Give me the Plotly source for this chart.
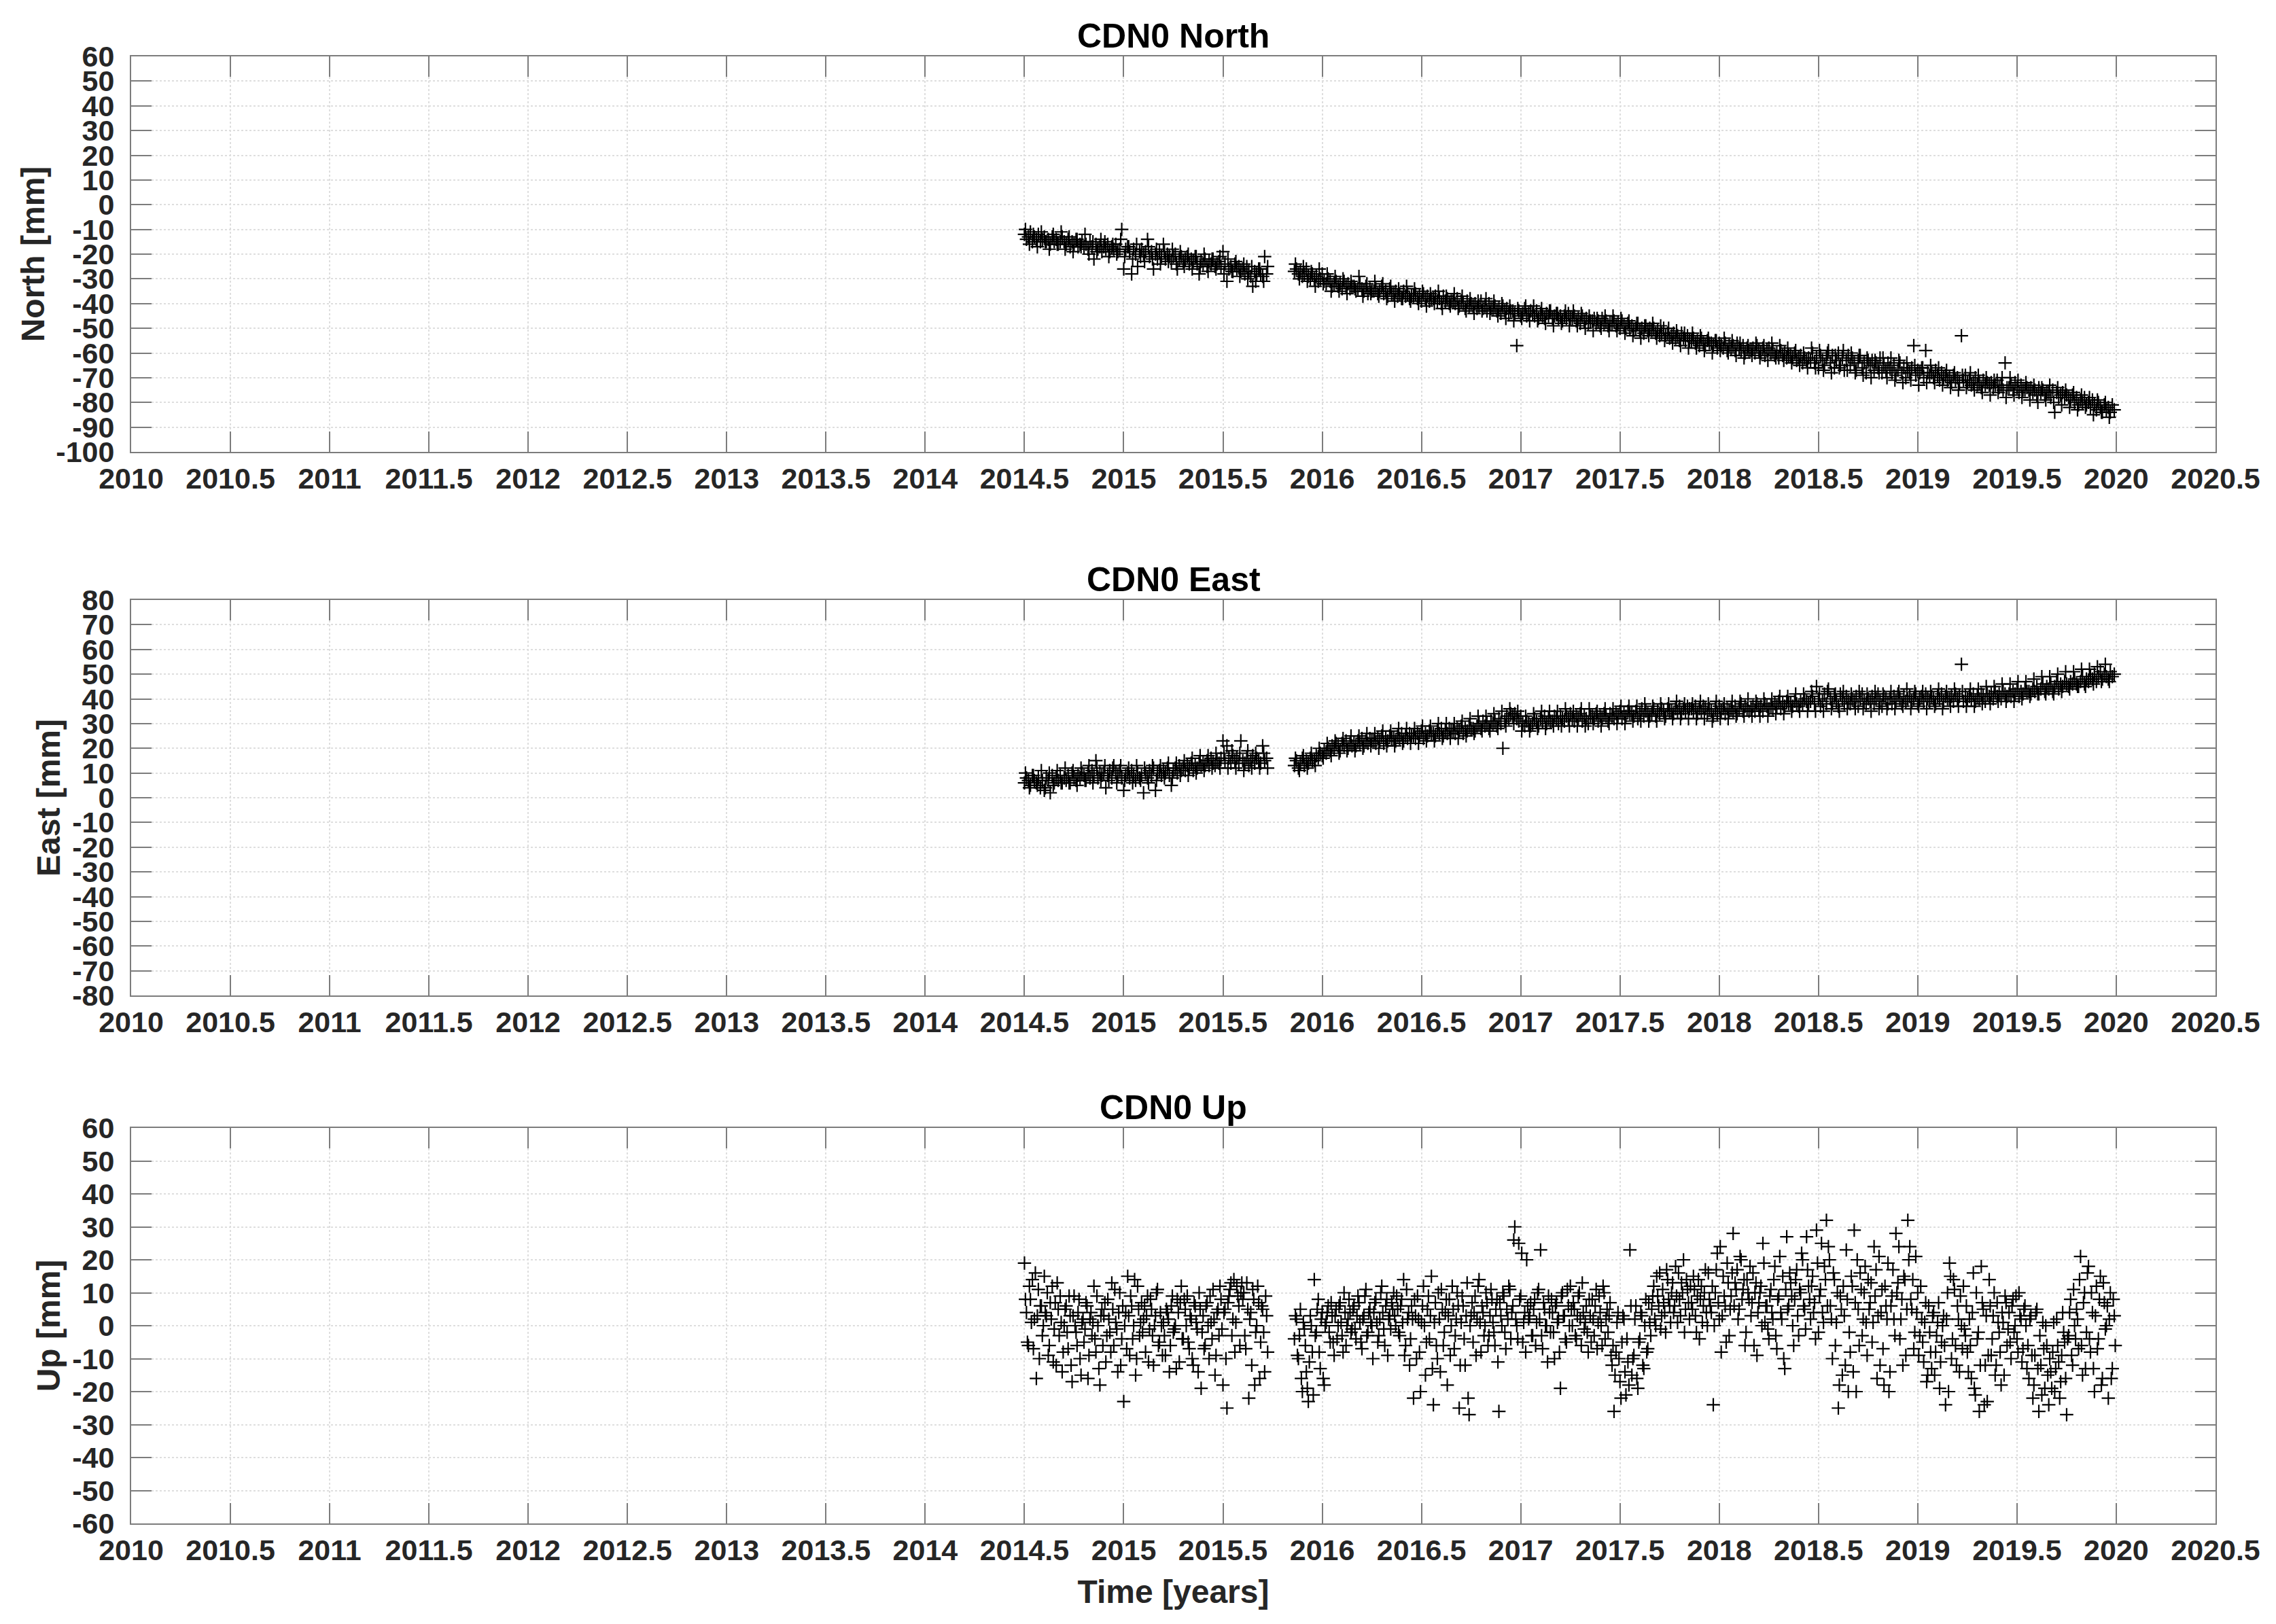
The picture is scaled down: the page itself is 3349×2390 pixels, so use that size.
import numpy as np
import plotly.graph_objects as go

# ---------------- data ----------------
SEG1_START = 2014.50      # first block of observations
SEG2_START = 2015.86      # second block, after the data gap
STEP = 0.01               # sampling of the main readings [yr]
B_OFFSET = 0.005          # extra readings lie between the main ones
NE_B_STEP = 0.02          # sampling of the extra North / East readings [yr]

north_seg1 = [-12, -14, -13, -11, -15, -13, -14, -12, -15, -14,
              -13, -15, -14, -16, -13, -15, -14, -16, -15, -13,
              -15, -16, -14, -17, -15, -16, -14, -17, -16, -15,
              -17, -16, -18, -15, -17, -22, -16, -18, -17, -19,
              -17, -18, -16, -19, -17, -18, -16, -19, -18, -10,
              -26, -18, -17, -19, -28, -18, -20, -25, -19, -18,
              -20, -19, -14, -21, -19, -26, -20, -22, -19, -21,
              -16, -22, -20, -21, -23, -21, -20, -26, -22, -21,
              -23, -22, -21, -24, -22, -23, -21, -24, -28, -23,
              -24, -22, -25, -23, -24, -22, -25, -24, -23, -25,
              -19, -24, -31, -26, -25, -27, -24, -26, -25, -27,
              -26, -28, -25, -27, -29, -33, -27, -28, -26, -28,
              -29, -21, -28]
north_seg2 = [-27, -26, -28, -27, -29, -28, -26, -29, -30, -28,
              -30, -29, -31, -30, -28, -31, -32, -30, -31, -33,
              -32, -31, -33, -32, -34, -31, -33, -32, -34, -33,
              -33, -35, -34, -32, -34, -35, -33, -36, -34, -35,
              -35, -34, -36, -35, -33, -36, -35, -37, -34, -36,
              -36, -35, -37, -36, -38, -35, -37, -36, -38, -37,
              -37, -36, -38, -37, -39, -36, -38, -37, -39, -38,
              -38, -37, -39, -38, -40, -37, -39, -38, -40, -39,
              -39, -40, -38, -41, -39, -40, -42, -39, -41, -40,
              -41, -40, -42, -41, -39, -42, -41, -43, -40, -42,
              -42, -41, -43, -42, -44, -41, -43, -42, -44, -43,
              -43, -44, -57, -43, -45, -44, -42, -45, -44, -43,
              -44, -45, -43, -46, -44, -45, -46, -44, -45, -43,
              -46, -45, -44, -46, -45, -47, -45, -46, -44, -46,
              -46, -45, -47, -46, -48, -45, -47, -46, -48, -47,
              -47, -46, -48, -47, -49, -46, -48, -47, -49, -48,
              -48, -47, -49, -48, -50, -47, -49, -50, -48, -50,
              -49, -51, -50, -48, -51, -50, -52, -49, -51, -50,
              -51, -50, -52, -51, -53, -52, -50, -53, -52, -54,
              -53, -52, -54, -53, -55, -52, -54, -55, -53, -55,
              -55, -54, -56, -55, -57, -54, -56, -57, -55, -56,
              -56, -57, -55, -58, -56, -57, -58, -56, -59, -57,
              -58, -57, -59, -56, -58, -59, -57, -60, -58, -59,
              -59, -58, -60, -57, -59, -60, -58, -61, -59, -58,
              -60, -59, -61, -60, -62, -59, -61, -60, -62, -61,
              -61, -62, -60, -63, -62, -61, -64, -62, -63, -62,
              -63, -60, -64, -62, -66, -61, -63, -65, -62, -59,
              -64, -61, -66, -63, -60, -65, -62, -67, -63, -61,
              -65, -62, -64, -67, -63, -61, -66, -64, -68, -63,
              -65, -63, -67, -64, -66, -62, -68, -65, -67, -64,
              -66, -68, -65, -69, -67, -64, -68, -66, -70, -67,
              -68, -66, -57, -69, -67, -68, -66, -70, -59, -68,
              -69, -68, -70, -67, -69, -71, -68, -70, -69, -71,
              -70, -72, -69, -71, -70, -72, -53, -71, -69, -72,
              -71, -73, -72, -70, -73, -72, -74, -71, -73, -72,
              -73, -72, -74, -73, -71, -74, -73, -75, -64, -74,
              -74, -73, -75, -72, -74, -76, -73, -75, -75, -74,
              -75, -74, -76, -75, -77, -74, -76, -75, -77, -76,
              -76, -78, -75, -84, -76, -78, -77, -76, -78, -77,
              -78, -79, -77, -80, -78, -81, -79, -80, -78, -81,
              -80, -82, -79, -81, -83, -80, -82, -84, -81, -83,
              -82, -84, -81, -83]
north_seg1_b = [-10, -16, -12, -17, -11, -15, -18, -12, -16, -11,
                -18, -13, -19, -14, -17, -12, -20, -15, -19, -14,
                -15, -21, -16, -20, -14, -21, -17, -22, -16, -21,
                -23, -17, -22, -18, -24, -19, -23, -18, -24, -19,
                -25, -20, -26, -21, -25, -20, -27, -22, -26, -21,
                -28, -22, -27, -23, -29, -24, -30, -25, -31, -26,
                -31, -25]
north_seg2_b = [-24, -30, -25, -31, -27, -33, -26, -32, -28, -35,
                -29, -35, -30, -36, -31, -34, -29, -37, -32, -36,
                -31, -37, -32, -38, -33, -39, -34, -38, -33, -39,
                -34, -40, -35, -41, -36, -40, -35, -42, -37, -41,
                -36, -42, -37, -43, -38, -44, -39, -43, -38, -44,
                -39, -45, -40, -46, -41, -47, -42, -46, -41, -47,
                -41, -47, -42, -48, -43, -49, -44, -48, -43, -49,
                -43, -49, -44, -50, -45, -51, -46, -50, -45, -51,
                -45, -51, -46, -52, -47, -53, -48, -54, -49, -53,
                -48, -54, -49, -55, -50, -56, -51, -57, -52, -58,
                -52, -58, -53, -59, -54, -60, -55, -59, -54, -60,
                -55, -61, -56, -62, -57, -61, -56, -62, -57, -63,
                -56, -62, -57, -63, -58, -64, -59, -65, -60, -66,
                -58, -66, -59, -67, -60, -68, -61, -66, -59, -67,
                -60, -68, -61, -69, -62, -70, -63, -68, -62, -70,
                -62, -71, -63, -72, -64, -71, -65, -73, -66, -72,
                -65, -72, -66, -73, -67, -74, -68, -75, -69, -74,
                -68, -75, -69, -76, -70, -77, -71, -76, -70, -78,
                -70, -77, -71, -78, -72, -79, -73, -80, -74, -79,
                -73, -80, -74, -81, -75, -82, -76, -83, -77, -82,
                -78, -85, -79, -84, -80, -86]

east_seg1 = [6, 8, 7, 5, 9, 7, 6, 8, 4, 7,
             3, 8, 7, 2, 9, 6, 8, 7, 9, 6,
             8, 7, 9, 6, 10, 8, 7, 9, 8, 10,
             9, 7, 10, 8, 11, 9, 15, 8, 10, 9,
             10, 4, 9, 11, 8, 13, 10, 9, 11, 8,
             3, 9, 10, 8, 11, 9, 7, 10, 8, 9,
             2, 10, 8, 11, 9, 12, 3, 10, 11, 9,
             11, 10, 12, 9, 5, 11, 12, 10, 13, 11,
             12, 11, 13, 12, 14, 11, 13, 12, 14, 13,
             14, 13, 15, 13, 16, 14, 13, 15, 14, 16,
             23, 15, 21, 16, 14, 17, 15, 16, 14, 23,
             15, 14, 16, 13, 15, 17, 14, 16, 15, 14,
             21, 15, 16]
east_seg2 = [13, 15, 12, 14, 16, 13, 15, 14, 16, 15,
             15, 17, 16, 18, 17, 19, 18, 20, 19, 21,
             20, 22, 21, 19, 22, 21, 23, 20, 22, 21,
             22, 21, 23, 22, 24, 21, 23, 22, 24, 23,
             23, 22, 24, 23, 25, 22, 24, 23, 25, 24,
             24, 23, 25, 24, 26, 23, 25, 24, 26, 25,
             25, 24, 26, 25, 27, 24, 26, 25, 27, 26,
             26, 25, 27, 26, 28, 25, 27, 26, 28, 27,
             27, 26, 28, 27, 29, 26, 28, 27, 29, 28,
             28, 27, 29, 30, 28, 31, 29, 30, 28, 31,
             30, 31, 29, 32, 30, 20, 31, 33, 32, 34,
             33, 34, 32, 31, 33, 30, 29, 31, 30, 29,
             30, 32, 31, 29, 32, 31, 33, 30, 32, 31,
             31, 33, 32, 30, 33, 32, 31, 33, 32, 34,
             32, 31, 33, 32, 34, 31, 33, 32, 30, 33,
             33, 32, 34, 31, 33, 32, 34, 33, 31, 34,
             33, 32, 34, 33, 35, 32, 34, 33, 35, 34,
             34, 33, 35, 32, 34, 36, 33, 35, 34, 33,
             34, 36, 33, 35, 34, 36, 35, 33, 36, 35,
             35, 34, 36, 35, 37, 34, 36, 35, 37, 36,
             36, 35, 37, 34, 36, 35, 37, 36, 34, 36,
             35, 33, 36, 34, 37, 35, 36, 34, 36, 35,
             36, 35, 37, 34, 36, 38, 35, 37, 36, 35,
             36, 37, 35, 38, 36, 37, 35, 38, 37, 36,
             37, 36, 38, 37, 39, 36, 38, 37, 39, 38,
             38, 37, 39, 38, 37, 39, 38, 40, 39, 38,
             39, 41, 38, 45, 40, 37, 39, 42, 38, 44,
             40, 38, 41, 39, 37, 42, 40, 38, 41, 39,
             38, 40, 39, 41, 37, 40, 42, 39, 38, 40,
             39, 41, 38, 40, 42, 39, 37, 41, 40, 38,
             40, 38, 41, 39, 42, 40, 38, 41, 39, 40,
             41, 39, 40, 42, 38, 40, 41, 39, 42, 40,
             39, 41, 40, 38, 41, 40, 42, 39, 41, 40,
             40, 41, 39, 42, 40, 41, 54, 39, 41, 40,
             41, 40, 42, 39, 41, 40, 42, 41, 39, 42,
             41, 42, 40, 43, 41, 42, 40, 43, 42, 41,
             42, 41, 43, 42, 44, 41, 43, 42, 44, 43,
             43, 42, 44, 43, 45, 42, 44, 46, 43, 45,
             44, 46, 43, 45, 47, 44, 46, 45, 47, 46,
             45, 47, 46, 48, 46, 45, 47, 49, 46, 48,
             47, 49, 48, 50, 47, 49, 51, 48, 50, 49,
             48, 51, 49, 50]
east_seg1_b = [10, 4, 9, 5, 11, 4, 10, 5, 11, 6,
               12, 6, 11, 5, 12, 7, 13, 6, 12, 7,
               13, 7, 12, 6, 13, 7, 12, 6, 13, 7,
               12, 6, 13, 7, 13, 8, 14, 8, 14, 9,
               15, 9, 16, 10, 17, 11, 17, 12, 18, 12,
               18, 12, 19, 12, 18, 11, 19, 12, 18, 12,
               18, 12]
east_seg2_b = [16, 11, 17, 12, 18, 13, 20, 16, 22, 17,
               23, 18, 24, 19, 25, 19, 25, 20, 26, 21,
               26, 20, 27, 21, 27, 21, 28, 22, 28, 22,
               28, 22, 29, 23, 29, 23, 30, 24, 30, 24,
               30, 24, 31, 25, 32, 26, 33, 27, 33, 27,
               34, 28, 35, 29, 36, 30, 35, 27, 33, 27,
               34, 28, 35, 28, 35, 29, 35, 29, 36, 29,
               35, 29, 36, 29, 36, 30, 35, 29, 36, 30,
               36, 30, 37, 30, 37, 31, 37, 31, 38, 31,
               37, 31, 38, 32, 38, 32, 39, 32, 38, 32,
               38, 32, 39, 32, 38, 31, 39, 32, 38, 32,
               39, 33, 39, 33, 40, 33, 39, 33, 40, 33,
               40, 34, 41, 34, 41, 35, 42, 35, 42, 35,
               43, 35, 42, 35, 43, 36, 42, 35, 43, 36,
               42, 36, 43, 36, 42, 35, 43, 36, 42, 36,
               43, 36, 43, 37, 44, 36, 43, 37, 43, 36,
               43, 37, 44, 36, 43, 37, 44, 37, 43, 37,
               44, 37, 44, 38, 45, 38, 45, 39, 46, 39,
               46, 39, 47, 40, 47, 41, 48, 42, 49, 42,
               49, 42, 50, 43, 51, 44, 51, 45, 52, 45,
               52, 46, 53, 47, 54, 47]

up_seg1 = [19, 4, -6, 8, 14, 2, -16, 11, 6, -3,
           15, 3, -9, 7, 12, -1, -12, 5, 9, -14,
           0, 6, -7, 3, -17, 9, -2, 4, -10, 1,
           -5, 7, -16, 2, -3, 12, -8, 0, -18, 5,
           3, -11, 8, -2, 13, -6, 1, -14, 10, -4,
           -23, 4, 15, -9, 6, 0, -15, 12, -3, 7,
           2, -8, 9, -1, 5, -12, 3, 11, -5, 0,
           1, -9, 4, -14, 6, -2, 0, 8, -11, 12,
           -4, 5, 9, -7, 2, -12, 6, -1, 10, -19,
           3, -6, 7, -10, 1, 11, -15, 4, -3, 8,
           -18, 5, -25, 9, 13, 2, -8, 12, 6, 10,
           8, -3, 13, -22, 4, 11, -18, 0, 7, -5,
           5, -14, 3]
up_seg2 = [-4, 2, -10, 5, -20, -1, -14, -23, 3, -8,
           14, -2, 8, -13, 4, -18, 1, 6, -5, 3,
           -9, 5, 0, 7, -3, 10, -6, 2, 4, -1,
           6, -4, 9, 1, -7, 3, 11, -2, 5, 0,
           4, 8, -5, 2, 12, -1, 6, -9, 3, 7,
           10, 0, 5, -3, 8, 14, -6, 2, -12, 6,
           -22, 3, 9, -8, 1, 12, -15, 5, -4, 15,
           -24, 7, -10, 2, 11, -6, 4, -18, 8, 0,
           5, -3, 10, -25, 1, 6, -12, 13, -27, 3,
           -5, 9, 2, 14, -8, 4, 0, 7, -3, 11,
           1, -6, 8, -26, 3, 10, -2, 5, 12, -4,
           6, 30, 0, 25, 9, -5, 4, 20, 2, 7,
           -3, 8, 1, 11, 23, -7, 5, 0, 9, -2,
           4, -10, 7, 2, -19, 10, 3, -5, 6, 12,
           0, 5, -4, 9, 2, 13, -1, 6, -8, 3,
           8, -3, 11, 1, 4, -6, 10, 2, -2, 7,
           -12, -26, -8, 4, -17, -5, 2, -21, -11, 23,
           -15, -9, 6, -19, -4, 3, -13, 8, -7, 1,
           5, 12, 0, 9, 16, 3, 7, -2, 14, 6,
           10, 4, 18, 1, 8, 13, 20, 5, 11, 2,
           7, 15, 3, 9, -4, 12, 6, 17, 0, 8,
           4, -24, 10, 22, 2, -8, 15, 6, 19, -3,
           9, 28, 13, 17, 5, 20, 11, -6, 14, 8,
           3, 16, 10, -9, 7, 12, 25, 1, 6, -4,
           11, 2, 18, -7, 9, 4, 15, -13, 27, 6,
           13, 0, 8, 17, -3, 10, 20, 5, 27, 12,
           2, 15, 7, 29, -2, 11, 4, 18, 32, 24,
           6, -10, 14, 1, -25, 9, -15, 3, 23, -20,
           -8, 12, 29, -20, 5, 16, -3, 10, 1, 14,
           7, -5, 24, 17, 3, -12, 11, -18, 6, 19,
           -14, 9, 2, 28, 13, -4, 8, 15, -9, 32,
           24, 5, -7, 21, 10, -3, 2, -11, 7, -15,
           -2, -13, 4, -8, 1, -19, -5, 3, -24, 10,
           19, -10, 14, -6, 6, -14, 0, 12, -3, -8,
           2, -16, 16, -21, -4, -26, 18, 5, -12, -23,
           14, -9, 3, -15, 7, -2, -18, 1, 9, -6,
           4, -10, 8, 0, -4, 10, 2, -7, 6, -13,
           -16, 3, -22, -9, 5, -26, -12, 1, -19, -6,
           -24, -14, -8, -20, 2, -11, -17, 4, -5, -27,
           -3, 8, -12, 0, 5, -7, 21, -15, 10, -2,
           18, -8, 4, -20, 12, -4, 15, -16, 7, 0,
           -22, 10, -13, 3]
up_seg1_b = [8, -5, 12, 1, -7, 16, 3, -10, 6, 0,
             4, 10, -6, 2, -11, 7, 13, -3, 1, -8,
             5, -2, 9, -12, 3, 0, -6, 8, -15, 2,
             -1, 6, -9, 4, 1, -4, 9, -13, 3, -6,
             7, -3, 2, -8, 5, 11, -1, 4, -12, 6,
             0, -7, 3, 9, -4, 14, -10, 5, 1, -2,
             6, 3, -11, 8, -3, 0, 10, -6, 4, -9,
             -3, 5, 2, -6, 9, -1, -13, 4, 7, -4,
             8, 0, -5, 3, -10, 7, 1, -14, 5, -2,
             -7, 6, 0, 9, -4, 2, -9, 5, 12, -1,
             4, -10, 7, 11, -3, 14, 1, 9, -6, 13,
             10, -7, 5, 2, -12, 8, -2, 12, -16, 6,
             -2, 9, -8]
up_seg2_b = [3, -9, -3, -16, 1, -6, -19, -11, 0, -21,
             -3, 5, -8, 2, -16, 0, 4, -2, 7, -5,
             3, -4, 6, 1, -8, 4, 0, 8, -2, 5,
             -1, 3, 7, -5, 2, 9, -3, 4, 1, -10,
             7, 1, -3, 10, 4, -6, 8, 2, -1, 5,
             3, 9, -2, 6, 1, -9, 11, 4, -4, 2,
             8, -10, 2, -20, 6, 0, -5, 9, 3, -13,
             1, -6, 10, -14, 5, -2, 8, 3, -9, 12,
             -7, 2, 6, -12, 9, -4, 3, -22, 0, 7,
             4, -9, 12, 1, 6, -3, 10, -6, 3, 8,
             -2, 5, -11, 7, 0, 9, -7, 2, 11, 4,
             26, 2, -4, 8, 22, 1, -8, 6, 3, -3,
             5, -6, 10, 2, -3, 7, 0, -11, 4, 8,
             -2, 6, 1, -8, 9, 3, -4, 11, 0, 5,
             7, -3, 3, 10, -6, 4, 1, -2, 8, -5,
             2, 6, -7, 9, 0, 12, -4, 5, 3, -9,
             -6, -15, 1, -10, -22, 3, -14, -4, -18, 6,
             -10, 2, -16, -5, 4, -12, 0, -8, 7, -3,
             9, 2, 15, 6, -1, 11, 4, 17, 8, 1,
             13, 6, 9, 16, 3, 10, -2, 14, 7, 12,
             5, 11, -2, 14, 8, 1, 10, 4, 16, 6,
             12, 0, 17, 7, 24, 3, 9, -5, 13, 5,
             16, 6, 11, 2, 21, 8, 14, -2, 10, 18,
             7, -6, 13, 4, 10, 0, 19, 6, -1, 9,
             4, 14, -3, 8, 21, 2, -10, 11, 5, 16,
             9, -6, 14, 3, 11, 22, 6, -1, 17, 8,
             12, 4, -4, 19, 9, 25, 1, 14, 6, 20,
             2, 16, -6, 10, -18, 5, 12, -12, 8, -2,
             15, -14, 7, 20, -6, 11, 2, 18, -9, 5,
             13, 1, 9, -16, 21, 4, -7, 12, 2, -20,
             6, 17, -3, 10, 24, 2, -12, 14, 5, 20,
             8, 14, -2, 4, -9, 12, -5, 1, -17, 6,
             -8, 3, -15, -3, 7, -11, 0, -6, 2, -20,
             15, -4, 11, -12, 2, 9, -7, -1, 6, -14,
             -6, 4, -19, 10, -2, -12, 7, -24, 3, -9,
             6, -4, 10, -12, 1, -8, 4, -15, 7, -1,
             -5, 6, -2, 9, -8, 3, -11, 5, 0, -6,
             2, -9, -18, 4, -13, -3, -21, -7, 0, -15,
             -10, -19, 1, -13, -6, -22, -9, -2, -16, -4,
             4, -9, 11, -4, 2, 14, -6, 7, -13, 16,
             -4, 10, -13, 3, -7, 8, -18, 13, -1, 6,
             2, -16, 8, -6]

x_tick_vals = [2010, 2010.5, 2011, 2011.5, 2012, 2012.5, 2013, 2013.5, 2014, 2014.5,
               2015, 2015.5, 2016, 2016.5, 2017, 2017.5, 2018, 2018.5, 2019, 2019.5,
               2020, 2020.5]
x_tick_text = ["2010", "2010.5", "2011", "2011.5", "2012", "2012.5", "2013", "2013.5",
               "2014", "2014.5", "2015", "2015.5", "2016", "2016.5", "2017", "2017.5",
               "2018", "2018.5", "2019", "2019.5", "2020", "2020.5"]
north_ticks = [-100, -90, -80, -70, -60, -50, -40, -30, -20, -10, 0, 10, 20, 30, 40, 50, 60]
east_ticks = [-80, -70, -60, -50, -40, -30, -20, -10, 0, 10, 20, 30, 40, 50, 60, 70, 80]
up_ticks = [-60, -50, -40, -30, -20, -10, 0, 10, 20, 30, 40, 50, 60]

panel_titles = ["CDN0 North", "CDN0 East", "CDN0 Up"]
y_titles = ["North [mm]", "East [mm]", "Up [mm]"]
x_title = "Time [years]"


def epochs(start, n, step=STEP):
    return list(np.round(start + step * np.arange(n), 4))


t_ne = epochs(SEG1_START, len(north_seg1)) + epochs(SEG2_START, len(north_seg2))
t_ne_b = (epochs(SEG1_START + B_OFFSET, len(north_seg1_b), NE_B_STEP)
          + epochs(SEG2_START + B_OFFSET, len(north_seg2_b), NE_B_STEP))
t_up = (epochs(SEG1_START, len(up_seg1)) + epochs(SEG2_START, len(up_seg2))
        + epochs(SEG1_START + B_OFFSET, len(up_seg1_b))
        + epochs(SEG2_START + B_OFFSET, len(up_seg2_b)))

t_north = t_ne_b + t_ne
north = north_seg1_b + north_seg2_b + north_seg1 + north_seg2
t_east = t_ne_b + t_ne
east = east_seg1_b + east_seg2_b + east_seg1 + east_seg2
up = up_seg1 + up_seg2 + up_seg1_b + up_seg2_b

# ---------------- figure ----------------
W, H = 3349, 2390
FONT = "Liberation Sans, Arial, Helvetica, sans-serif"
X0, X1 = 185, 3252                       # plot area left/right [px]
rows_px = [(75, 657), (875, 1457), (1652, 2234)]
xdom = [X0 / W, X1 / W]
ydoms = [[1 - b / H, 1 - t / H] for t, b in rows_px]

marker = dict(symbol="cross-thin", size=14, color="black",
              line=dict(width=2.2, color="black"))

fig = go.Figure()
fig.add_trace(go.Scatter(x=t_north, y=north, mode="markers", marker=marker,
                         xaxis="x", yaxis="y", showlegend=False, name="North"))
fig.add_trace(go.Scatter(x=t_east, y=east, mode="markers", marker=marker,
                         xaxis="x2", yaxis="y2", showlegend=False, name="East"))
fig.add_trace(go.Scatter(x=t_up, y=up, mode="markers", marker=marker,
                         xaxis="x3", yaxis="y3", showlegend=False, name="Up"))

AX_COL = "#7c7c7c"
GRID_COL = "#dedede"
tickfont = dict(family=FONT, size=43, color="#262626", weight="bold")
titlefont = dict(family=FONT, size=48, color="#262626", weight="bold")

common = dict(ticks="inside", ticklen=30, tickwidth=2, tickcolor=AX_COL,
              showline=True, linecolor=AX_COL, linewidth=2, mirror="ticks",
              showgrid=True, gridcolor=GRID_COL, gridwidth=2, griddash="dot",
              zeroline=False, tickfont=tickfont, automargin=False)

layout = dict(width=W, height=H, margin=dict(l=0, r=0, t=0, b=0),
              paper_bgcolor="white", plot_bgcolor="white", showlegend=False)

yticks = [north_ticks, east_ticks, up_ticks]
for i in range(3):
    sx = "" if i == 0 else str(i + 1)
    xa = dict(common, domain=xdom, range=[2010, 2020.5], tickvals=x_tick_vals,
              ticktext=x_tick_text, tickangle=0, anchor="y" + sx)
    if i == 2:
        xa["title"] = dict(text=x_title, font=titlefont, standoff=22)
    ya = dict(common, domain=ydoms[i], range=[yticks[i][0], yticks[i][-1]],
              tickvals=yticks[i], ticktext=[str(v) for v in yticks[i]],
              ticklabelstandoff=14, anchor="x" + sx,
              title=dict(text=y_titles[i], font=titlefont, standoff=2))
    layout["xaxis" + sx] = xa
    layout["yaxis" + sx] = ya

annotations = []
for i in range(3):
    annotations.append(dict(text=panel_titles[i], x=(xdom[0] + xdom[1]) / 2, y=ydoms[i][1],
                            xref="paper", yref="paper", xanchor="center", yanchor="bottom",
                            showarrow=False, yshift=0,
                            font=dict(family=FONT, size=50, color="black", weight="bold")))
layout["annotations"] = annotations

fig.update_layout(**layout)
fig.write_html("out.html")
